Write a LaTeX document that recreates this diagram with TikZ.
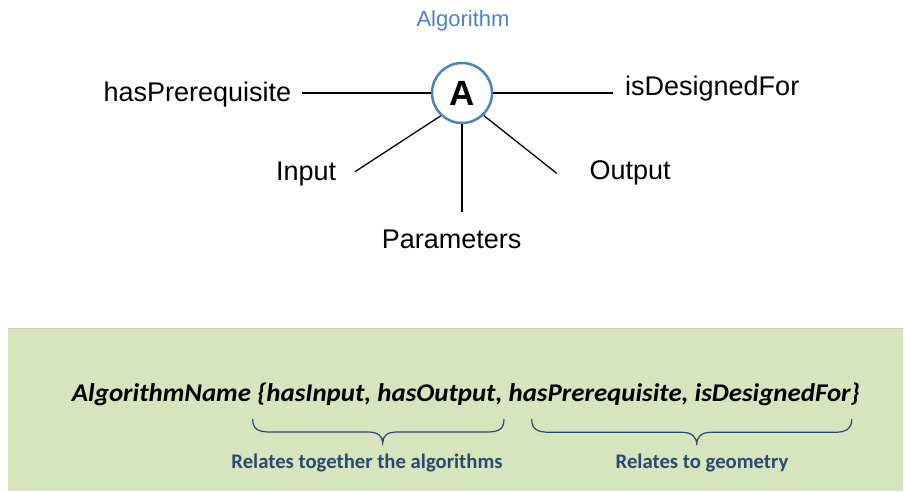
\documentclass[tikz,border=0pt]{standalone}
\usepackage{fontspec}
\setmainfont{Liberation Sans}
\newfontfamily\calib{Carlito}
\definecolor{algblue}{HTML}{4F81BD}
\definecolor{boxgreen}{HTML}{D8E4BE}
\definecolor{darkblue}{HTML}{254A75}
\tikzset{
  lbl/.style={inner sep=0pt, anchor=base west, font=\fontsize{27}{30}\selectfont},
  conn/.style={draw=black, line width=1.3pt},
  bracepath/.style={draw=darkblue, line width=1.2pt},
  sublbl/.style={inner sep=0pt, anchor=base, text=darkblue, font=\calib\bfseries\fontsize{20.7}{23}\selectfont}
}
\begin{document}
\begin{tikzpicture}[x=1pt,y=-1pt]
\useasboundingbox (0,0) rectangle (905,491);
% green box
\fill[boxgreen] (8,328) rectangle (903,491);
\draw[black!20, line width=0.8pt] (8,328) -- (903,328);

% central node
\node[circle, draw=algblue, line width=2.5pt, minimum size=60pt, inner sep=0pt,
      font=\bfseries\fontsize{35}{38}\selectfont] (A) at (462,93) {A};
\node[inner sep=0pt, anchor=base, text=algblue, font=\fontsize{22}{25}\selectfont] (title) at (463,26.7) {Algorithm};

% labels
\node[lbl] (pre) at (103.3,101.7) {hasPrerequisite};
\node[lbl] (des) at (625,95) {isDesignedFor};
\node[lbl] (in) at (276,180) {Input};
\node[lbl] (out) at (589.3,179) {Output};
\node[lbl] (par) at (381.7,248) {Parameters};

% connector ends
\coordinate (preE) at (301.7,93);
\coordinate (desE) at (613,93);
\coordinate (inE) at (355,171.7);
\coordinate (parE) at (462,211.7);
\coordinate (outE) at (556.7,173.3);

\draw[conn] (A.west) -- (preE);
\draw[conn] (A.east) -- (desE);
\draw[conn] (A.-133) -- (inE);
\draw[conn] (A.south) -- (parE);
\draw[conn] (A.-46) -- (outE);

% formula
\node[inner sep=0pt, anchor=base west] (formula) at (71.7,401.7)
  {\resizebox{788pt}{18.6pt}{\calib\bfseries\itshape\fontsize{26}{29}\selectfont AlgorithmName \{hasInput, hasOutput, hasPrerequisite, isDesignedFor\}}};

% braces
\coordinate (b1l) at (252.7,419);
\coordinate (b1t) at (382.7,443);
\coordinate (b1r) at (504,419);
\coordinate (b2l) at (531.7,419);
\coordinate (b2t) at (696.7,445);
\coordinate (b2r) at (851.7,419);
\draw[bracepath] (b1l) .. controls (252.7,429) and (258,432) .. (270,432)
  -- (368,432) .. controls (378,432) and (382.7,436) .. (b1t)
  .. controls (382.7,436) and (387,432) .. (397,432)
  -- (487,432) .. controls (499,432) and (504,429) .. (b1r);
\draw[bracepath] (b2l) .. controls (531.7,429) and (537,432.3) .. (550,432.3)
  -- (682,432.3) .. controls (692,432.3) and (696.7,437) .. (b2t)
  .. controls (696.7,437) and (701,432.3) .. (711,432.3)
  -- (834,432.3) .. controls (846,432.3) and (851.7,429) .. (b2r);

\node[sublbl] (s1) at (367,468) {Relates together the algorithms};
\node[sublbl] (s2) at (702,468) {Relates to geometry};
\end{tikzpicture}
\end{document}
